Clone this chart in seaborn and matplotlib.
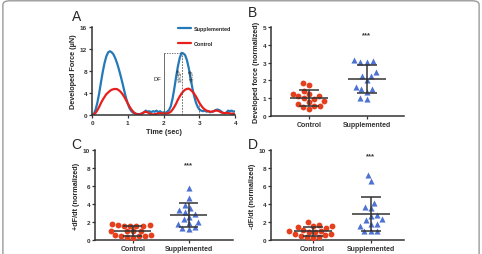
import numpy as np
import pandas as pd
import matplotlib
matplotlib.use("Agg")
import matplotlib.pyplot as plt
from matplotlib.patches import FancyBboxPatch
import seaborn as sns

# ---- data ----
time_sec = [0.00, 0.05, 0.10, 0.15, 0.20, 0.25, 0.30, 0.35, 0.40, 0.45,
            0.50, 0.55, 0.60, 0.65, 0.70, 0.75, 0.80, 0.85, 0.90, 0.95,
            1.00, 1.05, 1.10, 1.15, 1.20, 1.25, 1.30, 1.35, 1.40, 1.45,
            1.50, 1.55, 1.60, 1.65, 1.70, 1.75, 1.80, 1.85, 1.90, 1.95,
            2.00, 2.05, 2.10, 2.15, 2.20, 2.25, 2.30, 2.35, 2.40, 2.45,
            2.50, 2.55, 2.60, 2.65, 2.70, 2.75, 2.80, 2.85, 2.90, 2.95,
            3.00, 3.05, 3.10, 3.15, 3.20, 3.25, 3.30, 3.35, 3.40, 3.45,
            3.50, 3.55, 3.60, 3.65, 3.70, 3.75, 3.80, 3.85, 3.90, 3.95, 4.00]
force_supp = [0.0, 0.2, 1.0, 2.3, 4.0, 6.0, 7.9, 9.5, 10.7, 11.4,
              11.6, 11.4, 11.0, 10.3, 9.4, 8.3, 7.1, 5.8, 4.4, 3.1,
              2.0, 1.2, 0.7, 0.4, 0.3, 0.2, 0.15, 0.2, 0.3, 0.5,
              0.8, 0.6, 0.7, 0.5, 0.7, 0.6, 0.8, 0.5, 0.7, 0.4,
              0.5, 0.4, 0.6, 0.9, 1.6, 3.0, 4.9, 7.0, 8.9, 10.4,
              11.3, 11.2, 10.9, 10.0, 8.6, 6.8, 5.0, 3.5, 2.3, 1.5,
              1.0, 0.8, 0.7, 0.8, 0.6, 0.7, 0.5, 0.6, 0.7, 0.9,
              1.0, 0.9, 0.7, 0.4, 0.3, 0.4, 0.8, 0.7, 0.8, 0.6, 0.7]
force_ctrl = [0.0, 0.1, 0.4, 0.9, 1.5, 2.2, 2.8, 3.3, 3.8, 4.1,
              4.4, 4.6, 4.7, 4.75, 4.7, 4.5, 4.2, 3.8, 3.3, 2.7,
              2.1, 1.5, 1.0, 0.6, 0.3, 0.15, 0.1, 0.15, 0.3, 0.5,
              0.6, 0.5, 0.3, 0.15, 0.1, 0.15, 0.2, 0.3, 0.35, 0.3,
              0.3, 0.25, 0.3, 0.4, 0.6, 1.0, 1.5, 2.1, 2.8, 3.4,
              3.9, 4.3, 4.6, 4.75, 4.8, 4.6, 4.3, 3.9, 3.4, 2.8,
              2.2, 1.7, 1.3, 1.0, 0.8, 0.7, 0.6, 0.6, 0.7, 0.8,
              0.8, 0.7, 0.5, 0.4, 0.35, 0.4, 0.4, 0.3, 0.25, 0.2, 0.2]

groups = ["Control", "Supplemented"]

df_ctrl = [1.87, 1.74, 1.42, 1.24, 1.24, 1.14, 1.14, 1.0, 0.96, 0.82,
           0.8, 0.7, 0.58, 0.55, 0.52, 0.38]
df_supp = [3.01, 3.09, 3.05, 3.13, 2.45, 2.23, 2.25, 2.0, 1.65, 1.52,
           1.52, 1.33, 0.96, 0.99]

pos_ctrl = [1.8, 1.7, 1.7, 1.6, 1.6, 1.55, 1.5, 1.0, 1.0, 1.0, 0.95,
            0.5, 0.5, 0.45, 0.45, 0.4, 0.3, 0.25]
pos_supp = [5.8, 4.7, 3.9, 3.5, 3.3, 3.1, 2.9, 2.6, 2.3, 2.0, 1.9,
            1.8, 1.4, 1.3, 1.2]

neg_ctrl = [1.95, 1.7, 1.6, 1.55, 1.4, 1.3, 1.1, 1.0, 0.95, 0.9, 0.85,
            0.7, 0.65, 0.5, 0.4, 0.35, 0.3, 0.25]
neg_supp = [7.2, 6.6, 4.1, 3.7, 3.5, 2.8, 2.7, 2.3, 2.2, 1.8, 1.8,
            1.5, 1.05, 1.0, 1.0]

RED = "#e4401e"
BLUE = "#4d72d2"
DARK = "#333333"

sns.set_style("ticks")
plt.rcParams['font.family'] = ['Liberation Sans', 'DejaVu Sans']
plt.rcParams['axes.linewidth'] = 1.1
plt.rcParams['axes.edgecolor'] = DARK
plt.rcParams['xtick.color'] = DARK
plt.rcParams['ytick.color'] = DARK

fig = plt.figure(figsize=(4.82, 2.55), dpi=100)

# rounded grey frame
frame = FancyBboxPatch((0.006, -0.2), 0.988, 1.193, boxstyle="round,pad=0,rounding_size=0.015",
                       transform=fig.transFigure, fc="none", ec="#9a9a9a", lw=1.0, zorder=0)
fig.patches.append(frame)

TICK_FS = 4.6
LAB_FS = 5.2


def style_axes(ax):
    sns.despine(ax=ax)
    ax.tick_params(axis="both", labelsize=TICK_FS, length=2, width=0.9, pad=1.5)
    for lab in ax.get_xticklabels() + ax.get_yticklabels():
        lab.set_fontweight("bold")


# ---- panel A ----
axA = fig.add_axes([0.191, 0.545, 0.297, 0.345])
lines = pd.DataFrame({
    "time": time_sec * 2,
    "force": force_supp + force_ctrl,
    "group": ["Supplemented"] * len(time_sec) + ["Control"] * len(time_sec),
})
sns.lineplot(data=lines, x="time", y="force", hue="group",
             hue_order=["Supplemented", "Control"],
             palette={"Supplemented": "#2479b8", "Control": "#e8201c"},
             lw=1.6, ax=axA)
axA.set_xlim(0, 4)
axA.set_ylim(0, 16)
axA.set_xticks([0, 1, 2, 3, 4])
axA.set_yticks([0, 4, 8, 12, 16])
axA.set_xlabel("Time (sec)", fontsize=LAB_FS, fontweight="bold", labelpad=2)
axA.set_ylabel("Developed Force (\u00b5N)", fontsize=LAB_FS, fontweight="bold", labelpad=2)
style_axes(axA)
leg = axA.legend(loc="upper right", bbox_to_anchor=(0.99, 1.04), frameon=False,
                 fontsize=3.9, handlelength=2.4, handletextpad=0.6,
                 labelspacing=1.9, borderaxespad=0)
for t in leg.get_texts():
    t.set_fontweight("bold")
# DF annotation
peak = max(force_supp[40:60])
axA.plot([2.0, 2.5], [peak, peak], ls=(0, (1.5, 1.5)), color="#555555", lw=0.6)
axA.plot([2.0, 2.0], [0.3, peak], color="#555555", lw=0.6)
axA.plot([2.5, 2.5], [0.0, peak], ls=(0, (2, 1.5)), color="#555555", lw=0.6)
axA.plot([3.0, 3.0], [0.0, 1.8], ls=(0, (2, 1.5)), color="#555555", lw=0.6)
axA.text(1.93, 6.6, "DF", fontsize=4.2, ha="right", va="center")
axA.text(2.38, 7.3, "+dF/dt", fontsize=3.4, rotation=-82, ha="center", va="center")
axA.text(2.70, 7.3, "-dF/dt", fontsize=3.4, rotation=-82, ha="center", va="center")
fig.text(0.150, 0.918, "A", fontsize=10)


# ---- scatter panels ----
def dot_panel(rect, ctrl, supp, ylim, yticks, ylabel, xlim, star_y, letter, letter_xy):
    ax = fig.add_axes(rect)
    d = pd.DataFrame({"group": ["Control"] * len(ctrl) + ["Supplemented"] * len(supp),
                      "value": ctrl + supp})
    sns.swarmplot(data=d[d.group == "Control"], x="group", y="value", order=groups,
                  color=RED, marker="o", size=4.2, linewidth=0, ax=ax, zorder=3)
    sns.swarmplot(data=d[d.group == "Supplemented"], x="group", y="value", order=groups,
                  color=BLUE, marker="^", size=4.4, linewidth=0, ax=ax, zorder=3)
    for i, vals in enumerate([ctrl, supp]):
        m = np.mean(vals)
        s = np.std(vals, ddof=1)
        ax.hlines(m, i - 0.33, i + 0.33, color=DARK, lw=1.1, zorder=4)
        ax.hlines([m - s, m + s], i - 0.17, i + 0.17, color=DARK, lw=1.1, zorder=4)
        ax.vlines(i, m - s, m + s, color=DARK, lw=1.1, zorder=4)
    ax.text(1, star_y, "***", fontsize=5.5, ha="center", va="center", fontweight="bold", color=DARK)
    ax.set_xlim(*xlim)
    ax.set_ylim(*ylim)
    ax.set_yticks(yticks)
    ax.set_xlabel("")
    ax.set_ylabel(ylabel, fontsize=LAB_FS, fontweight="bold", labelpad=2)
    style_axes(ax)
    ax.tick_params(axis="x", labelsize=5.0)
    fig.text(letter_xy[0], letter_xy[1], letter, fontsize=10)
    return ax


dot_panel([0.562, 0.541, 0.276, 0.349], df_ctrl, df_supp, (0, 5), [0, 1, 2, 3, 4, 5],
          "Developed force (normalized)", (-0.655, 1.64), 4.55, "B", (0.514, 0.935))
dot_panel([0.197, 0.055, 0.286, 0.353], pos_ctrl, pos_supp, (0, 10), [0, 2, 4, 6, 8, 10],
          "+dF/dt (normalized)", (-0.68, 1.79), 8.4, "C", (0.148, 0.415))
dot_panel([0.562, 0.055, 0.276, 0.353], neg_ctrl, neg_supp, (0, 10), [0, 2, 4, 6, 8, 10],
          "-dF/dt (normalized)", (-0.72, 1.57), 9.4, "D", (0.514, 0.415))

fig.savefig("out.png", dpi=100)
